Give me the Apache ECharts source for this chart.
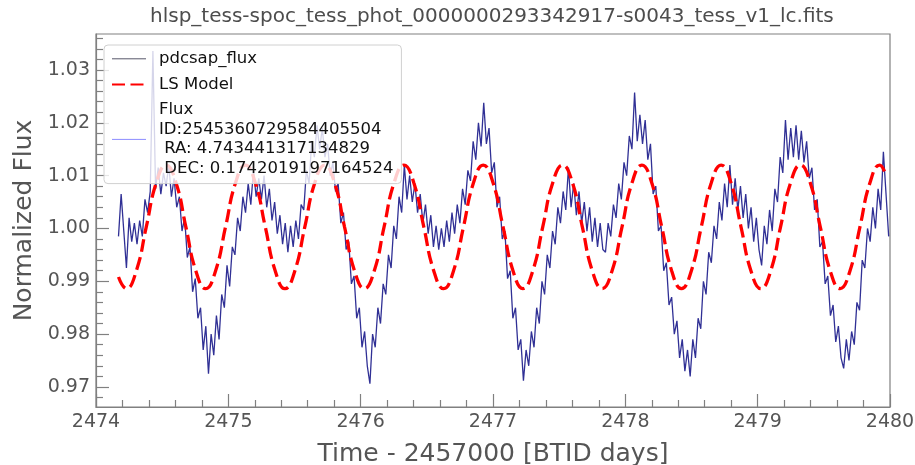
<!DOCTYPE html>
<html>
<head>
<meta charset="utf-8">
<script src="https://cdn.jsdelivr.net/npm/echarts@6/dist/echarts.min.js"></script>
<style>
html,body{margin:0;padding:0;background:#fff;}
#c{width:915px;height:465px;}
</style>
</head>
<body>
<div id="c"></div>
<script>
const titleText = 'hlsp_tess-spoc_tess_phot_0000000293342917-s0043_tess_v1_lc.fits';
const xName = 'Time - 2457000 [BTID days]';
const yName = 'Normalized Flux';
const legendNames = ['pdcsap_flux', 'LS Model', 'Flux\nID:2545360729584405504\n RA: 4.743441317134829\n DEC: 0.1742019197164524'];

const xTicks = [2474, 2475, 2476, 2477, 2478, 2479, 2480];
const yTicks = [0.97, 0.98, 0.99, 1.00, 1.01, 1.02, 1.03];
const yMinorTicks = [0.968, 0.972, 0.974, 0.976, 0.978, 0.982, 0.984, 0.986, 0.988, 0.992, 0.994, 0.996, 0.998,
  1.002, 1.004, 1.006, 1.008, 1.012, 1.014, 1.016, 1.018, 1.022, 1.024, 1.026, 1.028, 1.032, 1.034, 1.036];
const yRange = [0.9662, 1.0368];

const time = [
  2474.17,2474.19,2474.21,2474.23,2474.25,2474.27,2474.29,2474.31,2474.33,2474.35,
  2474.37,2474.39,2474.41,2474.43,2474.45,2474.47,2474.49,2474.51,2474.53,2474.55,
  2474.57,2474.59,2474.61,2474.63,2474.65,2474.67,2474.69,2474.71,2474.73,2474.75,
  2474.77,2474.79,2474.81,2474.83,2474.85,2474.87,2474.89,2474.91,2474.93,2474.95,
  2474.97,2474.99,2475.01,2475.03,2475.05,2475.07,2475.09,2475.11,2475.13,2475.15,
  2475.17,2475.19,2475.21,2475.23,2475.25,2475.27,2475.29,2475.31,2475.33,2475.35,
  2475.37,2475.39,2475.41,2475.43,2475.45,2475.47,2475.49,2475.51,2475.53,2475.55,
  2475.57,2475.59,2475.61,2475.63,2475.65,2475.67,2475.69,2475.71,2475.73,2475.75,
  2475.77,2475.79,2475.81,2475.83,2475.85,2475.87,2475.89,2475.91,2475.93,2475.95,
  2475.97,2475.99,2476.01,2476.03,2476.05,2476.07,2476.09,2476.11,2476.13,2476.15,
  2476.17,2476.19,2476.21,2476.23,2476.25,2476.27,2476.29,2476.31,2476.33,2476.35,
  2476.37,2476.39,2476.41,2476.43,2476.45,2476.47,2476.49,2476.51,2476.53,2476.55,
  2476.57,2476.59,2476.61,2476.63,2476.65,2476.67,2476.69,2476.71,2476.73,2476.75,
  2476.77,2476.79,2476.81,2476.83,2476.85,2476.87,2476.89,2476.91,2476.93,2476.95,
  2476.97,2476.99,2477.01,2477.03,2477.05,2477.07,2477.09,2477.11,2477.13,2477.15,
  2477.17,2477.19,2477.21,2477.23,2477.25,2477.27,2477.29,2477.31,2477.33,2477.35,
  2477.37,2477.39,2477.41,2477.43,2477.45,2477.47,2477.49,2477.51,2477.53,2477.55,
  2477.57,2477.59,2477.61,2477.63,2477.65,2477.67,2477.69,2477.71,2477.73,2477.75,
  2477.77,2477.79,2477.81,2477.83,2477.85,2477.87,2477.89,2477.91,2477.93,2477.95,
  2477.97,2477.99,2478.01,2478.03,2478.05,2478.07,2478.09,2478.11,2478.13,2478.15,
  2478.17,2478.19,2478.21,2478.23,2478.25,2478.27,2478.29,2478.31,2478.33,2478.35,
  2478.37,2478.39,2478.41,2478.43,2478.45,2478.47,2478.49,2478.51,2478.53,2478.55,
  2478.57,2478.59,2478.61,2478.63,2478.65,2478.67,2478.69,2478.71,2478.73,2478.75,
  2478.77,2478.79,2478.81,2478.83,2478.85,2478.87,2478.89,2478.91,2478.93,2478.95,
  2478.97,2478.99,2479.01,2479.03,2479.05,2479.07,2479.09,2479.11,2479.13,2479.15,
  2479.17,2479.19,2479.21,2479.23,2479.25,2479.27,2479.29,2479.31,2479.33,2479.35,
  2479.37,2479.39,2479.41,2479.43,2479.45,2479.47,2479.49,2479.51,2479.53,2479.55,
  2479.57,2479.59,2479.61,2479.63,2479.65,2479.67,2479.69,2479.71,2479.73,2479.75,
  2479.77,2479.79,2479.81,2479.83,2479.85,2479.87,2479.89,2479.91,2479.93,2479.95,
  2479.97,2479.99
];
const flux = [
  0.9985,1.0065,0.9995,0.9925,1.0020,0.9975,1.0010,0.9970,1.0015,0.9985,
  1.0055,1.0030,1.0070,1.0336,1.0075,1.0115,1.0065,1.0105,1.0080,1.0120,
  1.0060,1.0095,1.0040,1.0060,0.9995,1.0020,0.9945,0.9965,0.9880,0.9905,
  0.9830,0.9850,0.9770,0.9815,0.9725,0.9800,0.9760,0.9835,0.9790,0.9875,
  0.9850,0.9930,0.9890,0.9965,0.9950,1.0020,0.9995,1.0060,1.0030,1.0085,
  1.0045,1.0110,1.0060,1.0095,1.0055,1.0100,1.0040,1.0075,1.0015,1.0050,
  0.9990,1.0025,0.9970,1.0010,0.9955,1.0005,0.9965,1.0015,0.9980,1.0045,
  1.0035,1.0110,1.0085,1.0165,1.0135,1.0195,1.0150,1.0190,1.0135,1.0160,
  1.0100,1.0125,1.0070,1.0085,1.0010,1.0030,0.9960,0.9975,0.9895,0.9910,
  0.9830,0.9850,0.9775,0.9805,0.9740,0.9706,0.9800,0.9775,0.9850,0.9820,
  0.9895,0.9875,0.9950,0.9925,1.0005,0.9980,1.0060,1.0030,1.0120,1.0055,
  1.0100,1.0050,1.0085,1.0030,1.0065,1.0010,1.0045,0.9990,1.0025,0.9965,
  1.0005,0.9960,1.0000,0.9965,1.0015,0.9975,1.0030,0.9990,1.0045,1.0010,
  1.0075,1.0045,1.0110,1.0090,1.0165,1.0130,1.0200,1.0155,1.0238,1.0160,
  1.0190,1.0105,1.0125,1.0040,1.0060,0.9980,0.9995,0.9905,0.9920,0.9830,
  0.9850,0.9770,0.9790,0.9712,0.9770,0.9740,0.9805,0.9775,0.9850,0.9820,
  0.9900,0.9875,0.9950,0.9925,0.9995,0.9970,1.0040,1.0010,1.0070,1.0035,
  1.0115,1.0040,1.0085,1.0025,1.0070,1.0010,1.0050,0.9995,1.0040,0.9975,
  1.0020,0.9965,1.0010,0.9960,0.9955,1.0010,0.9985,1.0045,1.0020,1.0085,
  1.0055,1.0125,1.0100,1.0175,1.0150,1.0257,1.0165,1.0215,1.0160,1.0205,
  1.0130,1.0160,1.0065,1.0080,0.9995,1.0005,0.9920,0.9935,0.9855,0.9870,
  0.9800,0.9825,0.9755,0.9790,0.9730,0.9770,0.9720,0.9790,0.9755,0.9830,
  0.9810,0.9900,0.9875,0.9955,0.9935,1.0005,0.9980,1.0050,1.0015,1.0085,
  1.0040,1.0120,1.0045,1.0095,1.0035,1.0080,1.0020,1.0065,1.0000,1.0040,
  0.9975,1.0020,0.9960,0.9930,1.0005,0.9970,1.0035,0.9995,1.0075,1.0050,
  1.0135,1.0105,1.0205,1.0130,1.0190,1.0135,1.0195,1.0130,1.0185,1.0125,
  1.0165,1.0095,1.0115,1.0035,1.0055,0.9965,0.9975,0.9895,0.9910,0.9835,
  0.9855,0.9785,0.9815,0.9755,0.9735,0.9790,0.9750,0.9805,0.9780,0.9860,
  0.9845,0.9940,0.9925,1.0000,0.9975,1.0040,1.0000,1.0075,1.0035,1.0145,
  1.0065,0.9985
];

const modelTime = [
  2474.170,2474.230,2474.305,2474.380,2474.455,2474.530,2474.605,2474.679,2474.754,
  2474.829,2474.904,2474.979,2475.054,2475.129,2475.204,2475.279,2475.354,
  2475.428,2475.503,2475.578,2475.653,2475.728,2475.803,2475.878,2475.953,
  2476.028,2476.103,2476.177,2476.252,2476.327,2476.402,2476.477,2476.552,
  2476.627,2476.702,2476.777,2476.852,2476.926,2477.001,2477.076,2477.151,
  2477.226,2477.301,2477.376,2477.451,2477.526,2477.601,2477.675,2477.750,
  2477.825,2477.900,2477.975,2478.050,2478.125,2478.200,2478.275,2478.350,
  2478.424,2478.499,2478.574,2478.649,2478.724,2478.799,2478.874,2478.949,
  2479.024,2479.099,2479.173,2479.248,2479.323,2479.398,2479.473,2479.548,
  2479.623,2479.698,2479.773,2479.848,2479.922,2479.970
];
const modelFlux = [
  0.9908,0.9886,0.9920,1.0003,1.0086,1.0120,1.0086,1.0003,0.9920,
  0.9886,0.9920,1.0003,1.0086,1.0120,1.0086,1.0003,0.9920,
  0.9886,0.9920,1.0003,1.0086,1.0120,1.0086,1.0003,0.9920,
  0.9886,0.9920,1.0003,1.0086,1.0120,1.0086,1.0003,0.9920,
  0.9886,0.9920,1.0003,1.0086,1.0120,1.0086,1.0003,0.9920,
  0.9886,0.9920,1.0003,1.0086,1.0120,1.0086,1.0003,0.9920,
  0.9886,0.9920,1.0003,1.0086,1.0120,1.0086,1.0003,0.9920,
  0.9886,0.9920,1.0003,1.0086,1.0120,1.0086,1.0003,0.9920,
  0.9886,0.9920,1.0003,1.0086,1.0120,1.0086,1.0003,0.9920,
  0.9886,0.9920,1.0003,1.0086,1.0120,1.0100
];

const FONT = 'DejaVu Sans';
const GREY = '#808080';
const fluxData = time.map((t, i) => [t, flux[i]]);
const modelData = modelTime.map((t, i) => [t, modelFlux[i]]);

const chart = echarts.init(document.getElementById('c'), null, {renderer: 'canvas'});
chart.setOption({
  animation: false,
  backgroundColor: '#ffffff',
  title: {
    text: titleText,
    left: 150, top: 7, padding: 0,
    textStyle: {fontFamily: FONT, fontSize: 20, fontWeight: 'normal', color: '#4d4d4d'}
  },
  grid: {
    left: 96, right: 25, top: 34, bottom: 58,
    outerBoundsMode: 'none', containLabel: false,
    show: true, borderColor: GREY, borderWidth: 1.2, backgroundColor: 'transparent'
  },
  legend: {
    orient: 'vertical',
    left: 104, top: 45,
    padding: [4, 8, 5, 7],
    itemWidth: 34, itemHeight: 14, itemGap: 6,
    backgroundColor: 'rgba(255,255,255,0.8)',
    borderColor: '#d0d0d0', borderWidth: 1, borderRadius: 4,
    itemStyle: {opacity: 0, borderWidth: 0},
    textStyle: {fontFamily: FONT, fontSize: 16.5, color: '#111', lineHeight: 19.6, padding: [0, 0, 0, 8]},
    data: [
      {name: legendNames[0], lineStyle: {color: '#45455a', width: 1}},
      {name: legendNames[1]},
      {name: legendNames[2], lineStyle: {color: '#8c8cff', width: 1}}
    ]
  },
  xAxis: {
    type: 'value',
    min: xTicks[0], max: xTicks[xTicks.length - 1], interval: 1,
    name: xName, nameLocation: 'middle', nameGap: 35,
    nameTextStyle: {fontFamily: FONT, fontSize: 25, color: '#555'},
    axisLine: {show: true, lineStyle: {color: GREY, width: 1.2}},
    axisTick: {show: true, inside: true, length: 13, lineStyle: {color: GREY, width: 1.2}},
    minorTick: {show: true, splitNumber: 5, length: 7, lineStyle: {color: GREY, width: 1.2}},
    splitLine: {show: false},
    axisLabel: {fontFamily: FONT, fontSize: 19, color: '#555', margin: 6, formatter: v => v.toFixed(0)}
  },
  yAxis: [
    {
      type: 'value', position: 'left',
      min: yRange[0], max: yRange[1],
      name: yName, nameLocation: 'middle', nameGap: 58,
      nameTextStyle: {fontFamily: FONT, fontSize: 25, color: '#555'},
      axisLine: {show: true, lineStyle: {color: GREY, width: 1.2}},
      axisTick: {show: true, inside: true, length: 13, customValues: yTicks, lineStyle: {color: GREY, width: 1.2}},
      splitLine: {show: false},
      axisLabel: {fontFamily: FONT, fontSize: 19, color: '#555', margin: 6, customValues: yTicks, formatter: v => v.toFixed(2)}
    },
    {
      type: 'value', position: 'left', offset: 0,
      min: yRange[0], max: yRange[1],
      axisLine: {show: false},
      axisTick: {show: true, inside: true, length: 7, customValues: yMinorTicks, lineStyle: {color: GREY, width: 1.2}},
      splitLine: {show: false},
      axisLabel: {show: false}
    }
  ],
  series: [
    {
      name: legendNames[0], type: 'line', data: fluxData,
      showSymbol: false, symbol: 'none',
      lineStyle: {color: '#1a1a8a', width: 1.3, opacity: 0.9},
      itemStyle: {color: '#1a1a8a'}
    },
    {
      name: legendNames[1], type: 'line', data: modelData,
      showSymbol: false, symbol: 'none', smooth: true,
      lineStyle: {color: '#ff0000', width: 3.3, type: [13, 5.5]},
      itemStyle: {color: '#ff0000'}
    },
    {
      name: legendNames[2], type: 'line', data: [],
      showSymbol: false, symbol: 'none',
      lineStyle: {color: '#8c8cff', width: 1},
      itemStyle: {color: '#8c8cff'}
    }
  ]
});
</script>
</body>
</html>
